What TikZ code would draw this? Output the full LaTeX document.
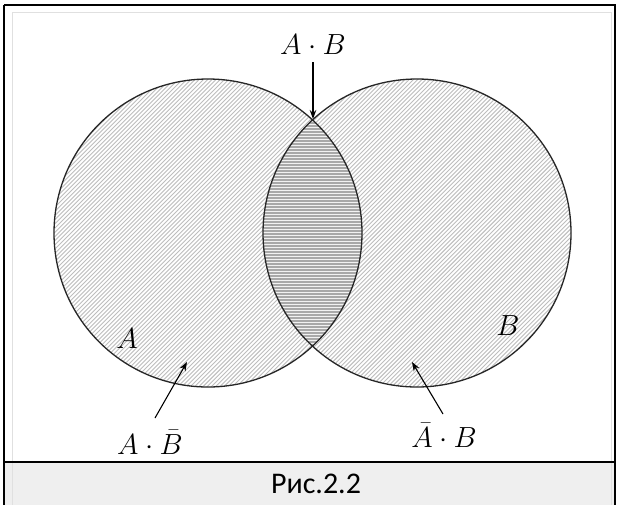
\documentclass[tikz,border=0pt]{standalone}
\usepackage{graphicx}
\usepackage{fontspec}
\newfontfamily\capfont{Carlito}
\usetikzlibrary{arrows.meta}
\definecolor{capbg}{HTML}{EFEFEF}
\definecolor{hatchc}{HTML}{BDBDBD}
\definecolor{lensc}{HTML}{A9A9A9}
\newcommand{\biglbl}[1]{\scalebox{1.17}{\fontsize{24.88}{30}\selectfont$#1$}}
\tikzset{
  lbl/.style={inner sep=0pt,anchor=base},
  pointer/.style={line width=1.1pt,-{Stealth[length=9pt,width=6.5pt]}},
  circ/.style={line width=1.3pt,draw=black!85},
  hatch/.style={line width=0.9pt,draw=hatchc},
  lensline/.style={line width=0.9pt,draw=white!85!lensc}
}
\begin{document}
\begin{tikzpicture}[x=1pt,y=-1pt]
\useasboundingbox (0,0) rectangle (620,504);
% frame
\fill[white] (4,5) rectangle (615,462);
\fill[capbg] (4,462) rectangle (615,510);
\draw[black!12,line width=1pt] (12,12) -- (12,510) (611,12) -- (611,510);
\draw[black!12,line width=1pt] (12,12) -- (611,12);
\draw[black,line width=2pt] (4,5) -- (615,5) -- (615,510) (4,510) -- (4,5);
\draw[black,line width=2pt] (4,462) -- (615,462);
% hatched circles
\begin{scope}
  \clip (208,233) circle[radius=154];
  \foreach \c in {220,224.2,...,665} \draw[hatch] ({\c-75},75) -- ({\c-392},392);
\end{scope}
\begin{scope}
  \clip (417,233) circle[radius=154];
  \foreach \c in {430,434.2,...,875} \draw[hatch] ({\c-75},75) -- ({\c-392},392);
\end{scope}
% lens
\begin{scope}
  \clip (208,233) circle[radius=154];
  \clip (417,233) circle[radius=154];
  \fill[lensc] (250,110) rectangle (370,360);
  \foreach \y in {118,121,...,350} \draw[lensline] (250,\y) -- (370,\y);
\end{scope}
\draw[circ] (208,233) circle[radius=154];
\draw[circ] (417,233) circle[radius=154];
% labels
\node[lbl] (ab) at (313,54) {\biglbl{A\cdot B}};
\node[lbl] (la) at (127,348) {\biglbl{A}};
\node[lbl] (lb) at (508,335) {\biglbl{B}};
\node[lbl] (anb) at (150,454) {\biglbl{A\cdot \bar{B}}};
\node[lbl] (nab) at (444,447) {\biglbl{\bar{A}\cdot B}};
\node[inner sep=0pt,font=\capfont\fontsize{30}{34}\selectfont] (cap) at (316,484) {Рис.2.2};
% pointers
\coordinate (abs) at (313,62);
\coordinate (abt) at (313,119);
\coordinate (anbs) at (155,418);
\coordinate (anbt) at (187,362);
\coordinate (nabs) at (443,414);
\coordinate (nabt) at (412,362);
\draw[pointer,line width=1.4pt] (abs) -- (abt);
\draw[pointer] (anbs) -- (anbt);
\draw[pointer] (nabs) -- (nabt);
\end{tikzpicture}
\end{document}
